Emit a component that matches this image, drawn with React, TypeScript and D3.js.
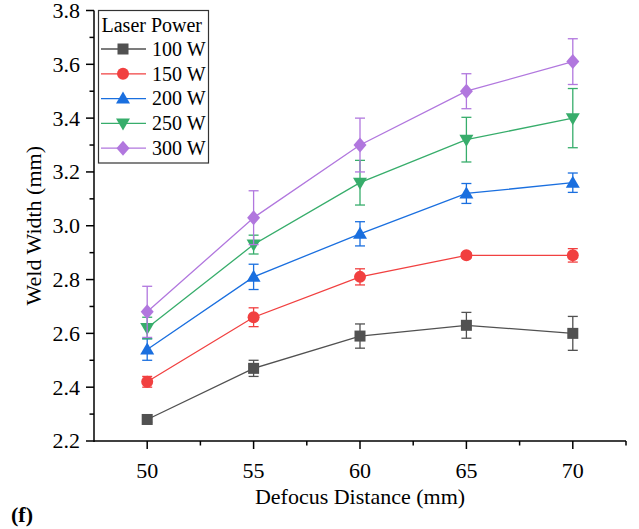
import React from "react";
import * as d3 from "d3";

const xValues = [50, 55, 60, 65, 70];
const seriesNames = ["100 W", "150 W", "200 W", "250 W", "300 W"];
const w100 = [2.28, 2.47, 2.59, 2.63, 2.6];
const e100 = [0.01, 0.03, 0.045, 0.048, 0.063];
const w150 = [2.42, 2.66, 2.81, 2.89, 2.89];
const e150 = [0.02, 0.035, 0.03, 0.01, 0.025];
const w200 = [2.54, 2.81, 2.97, 3.12, 3.16];
const e200 = [0.04, 0.047, 0.045, 0.037, 0.036];
const w250 = [2.62, 2.93, 3.16, 3.32, 3.4];
const e250 = [0.04, 0.035, 0.083, 0.083, 0.11];
const w300 = [2.68, 3.03, 3.3, 3.5, 3.61];
const e300 = [0.095, 0.1, 0.1, 0.065, 0.085];
const yTicks = [2.2, 2.4, 2.6, 2.8, 3.0, 3.2, 3.4, 3.6, 3.8];
const xTicks = [50, 55, 60, 65, 70];

const colors = ["#515151", "#F14040", "#1A6FDF", "#37AD6B", "#B177DE"];
const shapes = ["square", "circle", "up", "down", "diamond"];

const W = 639, H = 529;
const L = 94, R = 626, T = 10.5, B = 441;
const FONT = "'Liberation Serif', 'Times New Roman', serif";

function Marker({ shape, x, y, color }: { shape: string; x: number; y: number; color: string }) {
  if (shape === "square") return <rect x={x - 5.5} y={y - 5.5} width={11} height={11} fill={color} />;
  if (shape === "circle") return <circle cx={x} cy={y} r={6} fill={color} />;
  if (shape === "up")
    return <path d={`M${x},${y - 7} L${x + 7},${y + 5} L${x - 7},${y + 5} Z`} fill={color} />;
  if (shape === "down")
    return <path d={`M${x},${y + 7} L${x + 7},${y - 5} L${x - 7},${y - 5} Z`} fill={color} />;
  return <path d={`M${x},${y - 7.5} L${x + 6.5},${y} L${x},${y + 7.5} L${x - 6.5},${y} Z`} fill={color} />;
}

export default function App() {
  const xs = d3.scaleLinear().domain([47.5, 72.5]).range([L, R]);
  const ys = d3.scaleLinear().domain([2.2, 3.8]).range([B, T]);
  const values = [w100, w150, w200, w250, w300];
  const errs = [e100, e150, e200, e250, e300];
  const line = d3
    .line<number>()
    .x((_, i) => xs(xValues[i]))
    .y((d) => ys(d));
  const yMinor = d3.range(2.3, 3.8, 0.2);
  const xMinor = [52.5, 57.5, 62.5, 67.5, 72.5];

  const legX = 98.5, legY = 10.5, legW = 110, legH = 152.5;

  return (
    <svg width={W} height={H} style={{ position: "absolute", left: 0, top: 0, background: "#fff" }} fontFamily={FONT}>
      <rect x={0} y={0} width={W} height={H} fill="#fff" />
      {values.map((vals, s) => (
        <g key={s}>
          <path d={line(vals) || ""} fill="none" stroke={colors[s]} strokeWidth={1.3} />
          {vals.map((v, i) => {
            const cx = xs(xValues[i]);
            const y1 = ys(v + errs[s][i]);
            const y2 = ys(v - errs[s][i]);
            return (
              <g key={i} stroke={colors[s]} strokeWidth={1.3}>
                <line x1={cx} x2={cx} y1={y1} y2={y2} />
                <line x1={cx - 5} x2={cx + 5} y1={y1} y2={y1} />
                <line x1={cx - 5} x2={cx + 5} y1={y2} y2={y2} />
              </g>
            );
          })}
          {vals.map((v, i) => (
            <Marker key={i} shape={shapes[s]} x={xs(xValues[i])} y={ys(v)} color={colors[s]} />
          ))}
        </g>
      ))}
      <line x1={L} x2={L} y1={T} y2={B + 1} stroke="#000" strokeWidth={1.5} />
      <line x1={L} x2={R} y1={B} y2={B} stroke="#000" strokeWidth={1.5} />
      {yTicks.map((t) => (
        <g key={t}>
          <line x1={L - 8} x2={L} y1={ys(t)} y2={ys(t)} stroke="#000" strokeWidth={1.5} />
          <text x={L - 14} y={ys(t)} dy="0.34em" textAnchor="end" fontSize={22}>
            {t.toFixed(1)}
          </text>
        </g>
      ))}
      {yMinor.map((t) => (
        <line key={t} x1={L - 4.5} x2={L} y1={ys(t)} y2={ys(t)} stroke="#000" strokeWidth={1.5} />
      ))}
      {xTicks.map((t) => (
        <g key={t}>
          <line x1={xs(t)} x2={xs(t)} y1={B} y2={B + 8} stroke="#000" strokeWidth={1.5} />
          <text x={xs(t)} y={B + 37} textAnchor="middle" fontSize={22}>
            {t}
          </text>
        </g>
      ))}
      {xMinor.map((t) => (
        <line key={t} x1={xs(t)} x2={xs(t)} y1={B} y2={B + 4.5} stroke="#000" strokeWidth={1.5} />
      ))}
      <text x={(L + R) / 2} y={504} textAnchor="middle" fontSize={22}>
        Defocus Distance (mm)
      </text>
      <text transform={`translate(41,${(T + B) / 2}) rotate(-90)`} textAnchor="middle" fontSize={22}>
        Weld Width (mm)
      </text>
      <text x={11} y={522} fontSize={22} fontWeight="bold">
        (f)
      </text>
      <rect x={legX} y={legY} width={legW} height={legH} fill="#fff" stroke="#333" strokeWidth={1.2} />
      <text x={legX + 3} y={32} fontSize={20}>
        Laser Power
      </text>
      {seriesNames.map((n, s) => {
        const yy = 49 + s * 24.8;
        return (
          <g key={n}>
            <line x1={101} x2={146} y1={yy} y2={yy} stroke={colors[s]} strokeWidth={1.3} />
            <Marker shape={shapes[s]} x={123} y={yy} color={colors[s]} />
            <text x={152} y={yy} dy="0.34em" fontSize={20}>
              {n}
            </text>
          </g>
        );
      })}
    </svg>
  );
}
